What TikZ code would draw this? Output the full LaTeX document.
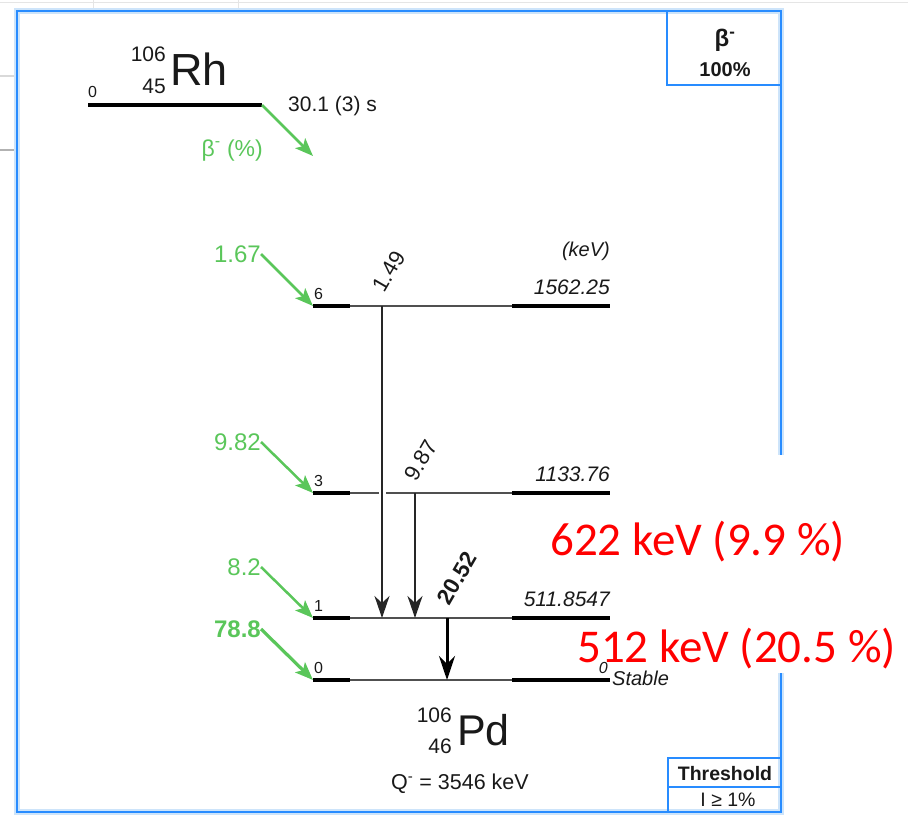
\documentclass[tikz,border=0pt]{standalone}
\usepackage{fontspec}
\setmainfont{Liberation Sans}
\newfontfamily\calibri{Carlito}
\usetikzlibrary{arrows.meta}

\definecolor{frameblue}{RGB}{40,140,255}
\definecolor{halo}{RGB}{205,228,250}
\definecolor{feedgreen}{RGB}{90,198,90}
\definecolor{lvlgray}{RGB}{80,80,80}
\definecolor{txt}{RGB}{25,25,25}

\newcommand{\fsz}[1]{\fontsize{#1}{#1}\selectfont}

\tikzset{
	lvlthin/.style={line width=2pt, lvlgray},
	lvlthick/.style={line width=4pt, black},
	gam/.style={line width=2.2pt, black!85, -{Stealth[length=22pt, width=15pt, inset=7pt]}},
	feed/.style={line width=2.5pt, feedgreen, -{Stealth[length=18pt, width=14pt, inset=4pt]}},
	lbl/.style={inner sep=0pt, text=txt},
	box/.style={draw=frameblue, line width=2.5pt},
}

\begin{document}
\begin{tikzpicture}[x=1pt, y=-1pt]
	\useasboundingbox (0,0) rectangle (908,816);

	% sheet grid behind the scheme
	\draw[black!10, line width=1pt] (0,3) -- (908,3);
	\draw[black!10, line width=1pt] (93,0) -- (93,11) (238,0) -- (238,11);
	\draw[black!15, line width=1.5pt] (0,76) -- (14,76);
	\draw[black!30, line width=1.5pt] (0,150) -- (14,150);

	% frame and the two small boxes
	\draw[halo, line width=6pt] (17,11) rectangle (781,812);
	\draw[box] (17,11) rectangle (781,812);
	\draw[box] (667,11) rectangle (781,85);
	\draw[box] (668,758) rectangle (781,812);
	\draw[box] (668,787) -- (781,787);
	\node[lbl, font=\fsz{24}\bfseries] (mode) at (725,40) {β\textsuperscript{-}};
	\node[lbl, font=\fsz{20}\bfseries] (br) at (725,70) {100\%};
	\node[lbl, font=\fsz{19.5}\bfseries] (thr) at (725,774) {Threshold};
	\node[lbl, font=\fsz{19.5}] (cut) at (728,800) {I ≥ 1\%};

	% white patch under the notes
	\fill[white] (700,455) rectangle (908,673);

	% parent
	\draw[lvlthick] (88,105) coordinate (p0) -- (262,105) coordinate (p1);
	\node[lbl, font=\fsz{16}, anchor=base west] (pe) at (88,97) {0};
	\node[lbl, font=\fsz{21}, anchor=base east] (pa) at (166,62) {106};
	\node[lbl, font=\fsz{21}, anchor=base east] (pz) at (166,93) {45};
	\node[lbl, font=\fsz{45}, anchor=base west] (rh) at (170,85) {Rh};
	\node[lbl, font=\fsz{21}, anchor=base west] (thalf) at (288,111) {30.1 (3) s};
	\node[lbl, font=\fsz{23}, text=feedgreen, anchor=base east] (bm) at (263,156) {β\textsuperscript{-} (\%)};
	\coordinate (pd) at (313,156);
	\draw[feed] (p1) -- (pd);

	% daughter levels
	\node[lbl, font=\fsz{20}\itshape, anchor=base east] (unit) at (610,256) {(keV)};
	\foreach \n/\y/\e in {6/306/1562.25, 3/493/1133.76, 1/618/511.8547} {
			\draw[lvlthin] (313,\y) -- (610,\y);
			\draw[lvlthick] (313,\y) -- (350,\y) (512,\y) -- (610,\y);
			\node[lbl, font=\fsz{16}, anchor=base west] (n\n) at (314,\y-7) {\n};
			\node[lbl, font=\fsz{21}\itshape, anchor=base east] (e\n) at (610,\y-12) {\e};
			\coordinate (L\n) at (313,\y);
		}
	\draw[lvlthin] (313,680) -- (610,680);
	\draw[lvlthick] (313,680) -- (350,680) (512,680) -- (610,680);
	\node[lbl, font=\fsz{16}, anchor=base west] (n0) at (314,673) {0};
	\node[lbl, font=\fsz{16}\itshape, anchor=base east] (e0) at (608,673) {0};
	\node[lbl, font=\fsz{20}\itshape, anchor=base west] (stable) at (612,685) {Stable};
	\coordinate (L0) at (313,680);

	% beta feeding
	\foreach \n/\y/\v in {6/254/1.67, 3/442/9.82, 1/567/8.2} {
			\node[lbl, font=\fsz{24}, text=feedgreen, anchor=east] (f\n) at (261,\y) {\v};
			\draw[feed] (f\n.east) -- (L\n);
		}
	\node[lbl, font=\fsz{24}\bfseries, text=feedgreen, anchor=east] (f0) at (261,629) {78.8};
	\draw[feed, line width=3.2pt] (f0.east) -- (L0);

	% gammas
	\coordinate (g6) at (382,306);
	\coordinate (g6e) at (382,618);
	\coordinate (g3) at (415,493);
	\coordinate (g3e) at (415,618);
	\coordinate (g1) at (447,618);
	\coordinate (g1e) at (447,680);
	\draw[gam, preaction={draw=white, line width=7pt, -, shorten <=8pt, shorten >=8pt}] (g6) -- (g6e);
	\draw[gam] (g3) -- (g3e);
	\draw[gam, line width=3pt, black, -{Stealth[length=24pt, width=16pt, inset=8pt]}] (g1) -- (g1e);
	\node[lbl, font=\fsz{22}, rotate=60, anchor=south west] (t6) at (385,294) {1.49};
	\node[lbl, font=\fsz{22}, rotate=60, anchor=south west] (t3) at (417,483) {9.87};
	\node[lbl, font=\fsz{22.5}\bfseries, rotate=60, anchor=south west] (t1) at (450,607) {20.52};

	% daughter
	\node[lbl, font=\fsz{21}, anchor=base east] (da) at (452,722) {106};
	\node[lbl, font=\fsz{21}, anchor=base east] (dz) at (452,753) {46};
	\node[lbl, font=\fsz{43}, anchor=base west] (pd) at (457,745) {Pd};
	\node[lbl, font=\fsz{21.5}, anchor=base] (qval) at (460,789) {Q\textsuperscript{-} = 3546 keV};

	% notes
	\node[lbl, font=\calibri\fsz{47}, text=red, anchor=base west] (n622) at (550,555) {622 keV (9.9 \%)};
	\node[lbl, font=\calibri\fsz{47}, text=red, anchor=base west] (n512) at (577,662) {512 keV (20.5 \%)};
\end{tikzpicture}
\end{document}
